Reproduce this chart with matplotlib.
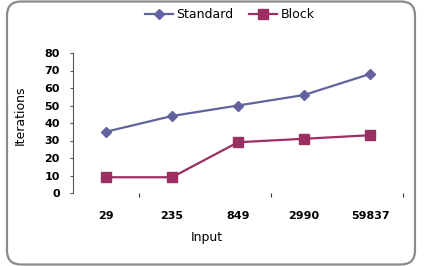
import matplotlib
matplotlib.use("Agg")
import matplotlib.pyplot as plt
from matplotlib.patches import FancyBboxPatch
from matplotlib.transforms import IdentityTransform

categories = ["29", "235", "849", "2990", "59837"]
standard = [35, 44, 50, 56, 68]
block = [9, 9, 29, 31, 33]
yticks = [0, 10, 20, 30, 40, 50, 60, 70, 80]

c_std = "#62629f"
c_blk = "#9b2f62"

fig = plt.figure(figsize=(4.24, 2.66), dpi=100)
ax = fig.add_axes([73/424, 1-193/266, 330/424, 140/266])

x = list(range(len(categories)))
ax.plot(x, standard, color=c_std, lw=1.6, marker="D", markersize=5.2, label="Standard")
ax.plot(x, block, color=c_blk, lw=1.6, marker="s", markersize=7.8, label="Block")

ax.set_xlim(-0.5, len(categories) - 0.5)
ax.set_ylim(0, 80)
ax.set_yticks(yticks)
ax.set_yticklabels([str(v) for v in yticks], fontweight="bold", fontsize=8)
ax.set_xticks(x)
ax.set_xticklabels(categories, fontweight="bold", fontsize=8)
ax.set_xticks([0.5, 2.5, 4.5], minor=True)
ax.tick_params(axis="x", which="major", length=0, pad=13)
ax.tick_params(axis="x", which="minor", length=3, width=0.8, color="#333333", direction="out")
ax.tick_params(axis="y", length=2.5, width=0.8, color="#555555", pad=7)

for s in ["top", "right", "bottom"]:
    ax.spines[s].set_visible(False)
ax.spines["left"].set_color("#555555")
ax.spines["left"].set_linewidth(0.8)

ax.set_ylabel("Iterations", fontsize=9, va="center", ha="center")
ax.yaxis.set_label_coords((20 - 73) / 330, (193 - 115.5) / 140)
ax.set_xlabel("Input", fontsize=9, va="center", ha="center")
ax.xaxis.set_label_coords((206.5 - 73) / 330, (193 - 238) / 140)

fig.legend(loc="center", bbox_to_anchor=(229.5/424, 1-15/266), ncol=2, frameon=False,
           fontsize=9, handlelength=2.3, handletextpad=0.25, columnspacing=1.2)

border = FancyBboxPatch((7, 1.5), 408, 263, boxstyle="round,pad=0,rounding_size=14",
                        transform=IdentityTransform(), facecolor="none",
                        edgecolor="#8a8a8a", linewidth=1.6)
fig.add_artist(border)

fig.savefig("out.png", dpi=100)
